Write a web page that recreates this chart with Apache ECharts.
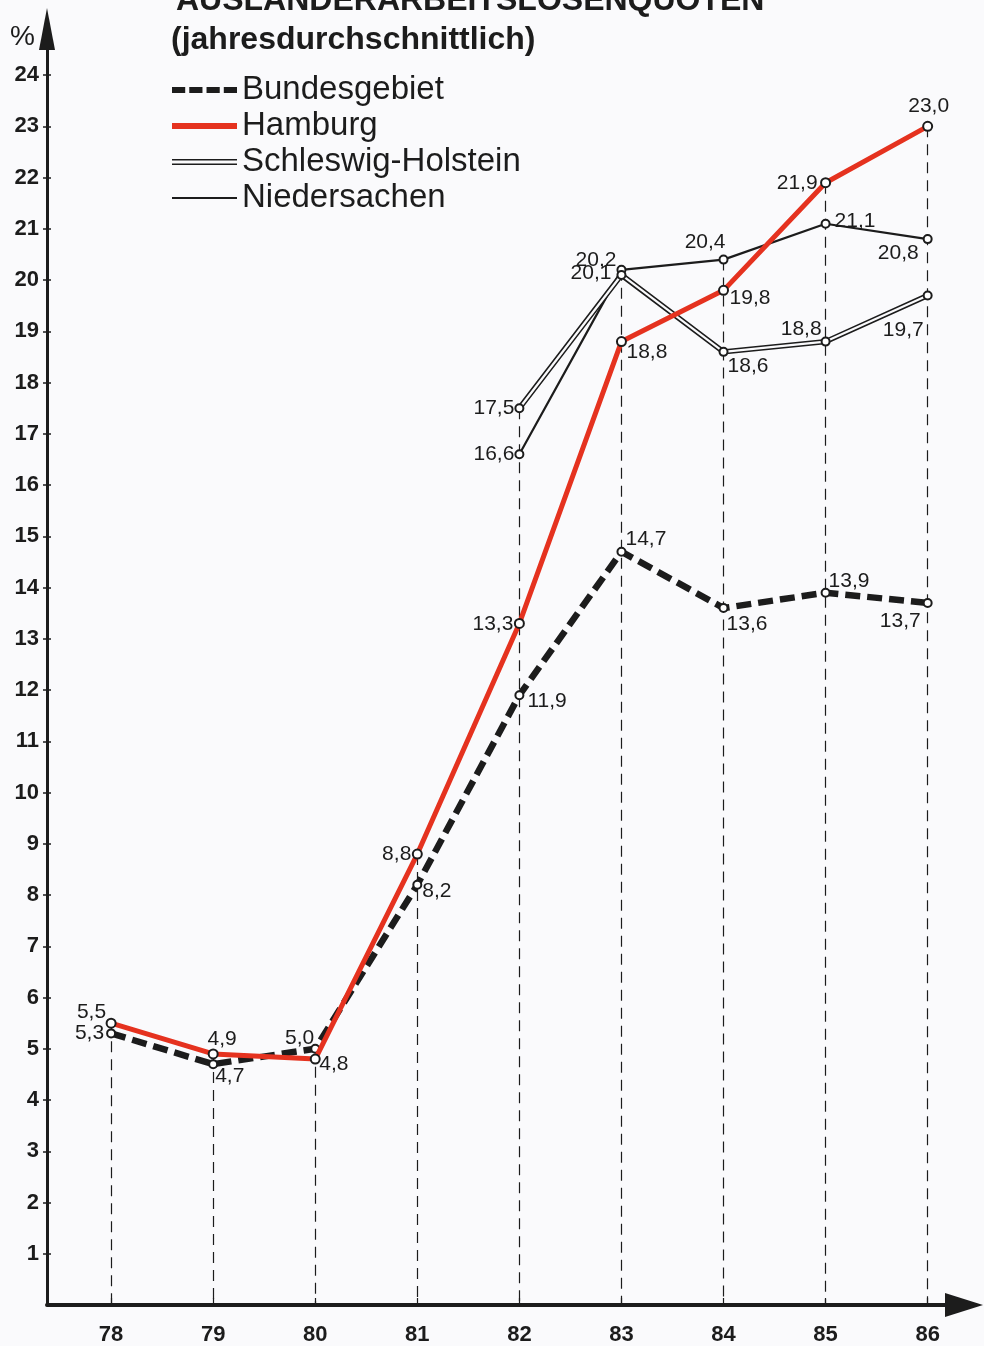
<!DOCTYPE html>
<html><head><meta charset="utf-8">
<script src="https://cdn.jsdelivr.net/npm/echarts@6/dist/echarts.min.js"></script>
<style>html,body{margin:0;padding:0;background:#fafafc}#c{width:984px;height:1346px}</style>
</head><body><div id="c"></div>
<script>
// ---- data ----
const years = [78, 79, 80, 81, 82, 83, 84, 85, 86];
const bundesgebiet = [5.3, 4.7, 5.0, 8.2, 11.9, 14.7, 13.6, 13.9, 13.7];
const hamburg = [5.5, 4.9, 4.8, 8.8, 13.3, 18.8, 19.8, 21.9, 23.0];
const landYears = [82, 83, 84, 85, 86];
const schleswigHolstein = [17.5, 20.1, 18.6, 18.8, 19.7];
const niedersachsen = [16.6, 20.2, 20.4, 21.1, 20.8];
const yTickValues = [1,2,3,4,5,6,7,8,9,10,11,12,13,14,15,16,17,18,19,20,21,22,23,24];
const xTickValues = years;
const seriesNames = ['Bundesgebiet', 'Hamburg', 'Schleswig-Holstein', 'Niedersachen'];
const titleText = 'AUSLÄNDERARBEITSLOSENQUOTEN';
const subtitleText = '(jahresdurchschnittlich)';

// ---- label layout (align, dx, dy) ----
const bgLabelPos = [['right',-7,0],['left',2,12],['right',-1,-11],['left',5,6],['left',8,6],['left',4,-12],['left',3,16],['left',3,-11],['right',-7,18]];
const hhLabelPos = [['right',-5,-11],['center',9,-15],['left',4,5],['right',-6,0],['right',-6,1],['left',5,11],['left',6,8],['right',-8,0],['center',1,-20]];
const shLabelPos = [['right',-5,0],['right',-10,-2],['left',4,14],['right',-4,-12],['right',-4,35]];
const nsLabelPos = [['right',-5,0],['right',-5,-10],['right',2,-17],['left',9,-3],['right',-9,14]];

const FONT = 'Liberation Sans';
const INK = '#1c1c1c';
const RED = '#e5321f';
const BG = '#fafafc';

const fmt = v => v.toFixed(1).replace('.', ',');
function pts(xs, ys, pos) {
  return xs.map((x, i) => ({
    value: [x, ys[i]],
    label: { align: pos[i][0], offset: [pos[i][1], pos[i][2]] }
  }));
}
const baseLabel = {
  show: true, position: 'inside', verticalAlign: 'middle',
  fontFamily: FONT, fontSize: 21, color: INK,
  formatter: p => fmt(p.value[1])
};
const markerStyle = { color: '#fff', borderColor: INK, borderWidth: 2 };

// drop lines: from highest point of each year down to axis
const tops = years.map((y, i) => {
  let m = Math.max(bundesgebiet[i], hamburg[i]);
  const j = landYears.indexOf(y);
  if (j >= 0) m = Math.max(m, schleswigHolstein[j], niedersachsen[j]);
  return m;
});

const chart = echarts.init(document.getElementById('c'), null, { renderer: 'canvas' });
chart.setOption({
  backgroundColor: BG,
  animation: false,
  title: [
    { text: titleText, left: 171, top: -20, padding: 5, textStyle: { fontFamily: FONT, fontSize: 32, fontWeight: 'bold', color: INK } },
    { text: subtitleText, left: 166, top: 19, padding: 5, textStyle: { fontFamily: FONT, fontSize: 32, fontWeight: 'bold', color: INK } }
  ],
  legend: {
    orient: 'vertical', left: 172, top: 73, padding: 0,
    itemWidth: 65, itemHeight: 8, itemGap: 2,
    selectedMode: false,
    textStyle: { fontFamily: FONT, fontSize: 33, color: INK, lineHeight: 34 },
    data: [
      { name: seriesNames[0], icon: 'path://M0,0h13v6h-13z M17,0h13v6h-13z M34,0h13v6h-13z M51,0h13v6h-13z', itemStyle: { color: INK, borderWidth: 0 } },
      { name: seriesNames[1], icon: 'path://M0,0h64v6h-64z', itemStyle: { color: RED, borderWidth: 0 } },
      { name: seriesNames[2], icon: 'path://M0,0h64v1.6h-64z M0,4.4h64v1.6h-64z', itemStyle: { color: INK, borderWidth: 0 } },
      { name: seriesNames[3], icon: 'path://M0,0h64v2.2h-64z', itemStyle: { color: INK, borderWidth: 0 } }
    ]
  },
  grid: { left: 47, right: 20, top: 29, bottom: 40, containLabel: false },
  xAxis: {
    type: 'value', min: 77.372, max: 86.356,
    axisLine: { show: true, symbol: ['none', 'triangle'], symbolSize: [24, 38], lineStyle: { color: INK, width: 4 } },
    axisTick: { show: true, inside: true, length: 7, customValues: xTickValues, lineStyle: { color: INK, width: 1.2 } },
    axisLabel: { customValues: xTickValues, margin: 19, fontFamily: FONT, fontSize: 22, fontWeight: 'bold', color: INK },
    splitLine: { show: false }
  },
  yAxis: [{
    type: 'value', min: 0, max: 24.9,
    name: '%', nameLocation: 'end', nameGap: -8,
    nameTextStyle: { fontFamily: FONT, fontSize: 28, color: INK, align: 'right', verticalAlign: 'middle', padding: [0, 12, 0, 0] },
    axisLine: { show: true, symbol: ['none', 'triangle'], symbolSize: [16, 42], lineStyle: { color: INK, width: 3 } },
    axisTick: { show: true, length: 4, customValues: yTickValues, lineStyle: { color: INK, width: 1.5 } },
    axisLabel: { customValues: yTickValues, margin: 8, fontFamily: FONT, fontSize: 22, fontWeight: 'bold', color: INK },
    splitLine: { show: false }
  }, {
    type: 'value', min: 0, max: 24.9, position: 'left',
    axisLine: { show: false },
    axisTick: { show: true, inside: true, length: 4, customValues: yTickValues, lineStyle: { color: INK, width: 1.5 } },
    axisLabel: { show: false },
    splitLine: { show: false }
  }],
  series: [
    {
      name: 'drops', type: 'line', z: 1, silent: true,
      data: years.map((y, i) => [y, tops[i]]),
      showSymbol: false, lineStyle: { opacity: 0 },
      markLine: {
        silent: true, z: 1, symbol: ['none', 'none'], animation: false,
        label: { show: false },
        lineStyle: { color: INK, width: 1.2, type: [11, 7] },
        emphasis: { disabled: true },
        data: years.map((y, i) => [{ coord: [y, tops[i]] }, { coord: [y, 0] }])
      }
    },
    {
      name: seriesNames[3], type: 'line', z: 3,
      data: pts(landYears, niedersachsen, nsLabelPos),
      symbol: 'circle', symbolSize: 8, itemStyle: markerStyle,
      lineStyle: { color: INK, width: 2.2 },
      label: baseLabel, emphasis: { disabled: true }
    },
    {
      name: seriesNames[2], type: 'line', z: 4,
      data: landYears.map((x, i) => [x, schleswigHolstein[i]]),
      showSymbol: false, symbol: 'none',
      lineStyle: { color: INK, width: 5.4 },
      emphasis: { disabled: true }
    },
    {
      name: 'sh-inner', type: 'line', z: 5,
      data: pts(landYears, schleswigHolstein, shLabelPos),
      symbol: 'circle', symbolSize: 8, itemStyle: markerStyle,
      lineStyle: { color: BG, width: 2.2 },
      label: baseLabel, emphasis: { disabled: true }
    },
    {
      name: seriesNames[0], type: 'line', z: 6,
      data: pts(years, bundesgebiet, bgLabelPos),
      symbol: 'circle', symbolSize: 8, itemStyle: markerStyle,
      lineStyle: { color: INK, width: 6.5, type: [15, 7], cap: 'butt' },
      label: baseLabel, emphasis: { disabled: true }
    },
    {
      name: seriesNames[1], type: 'line', z: 7,
      data: pts(years, hamburg, hhLabelPos),
      symbol: 'circle', symbolSize: 9, itemStyle: markerStyle,
      lineStyle: { color: RED, width: 5 },
      label: baseLabel, emphasis: { disabled: true }
    }
  ]
});
</script></body></html>
